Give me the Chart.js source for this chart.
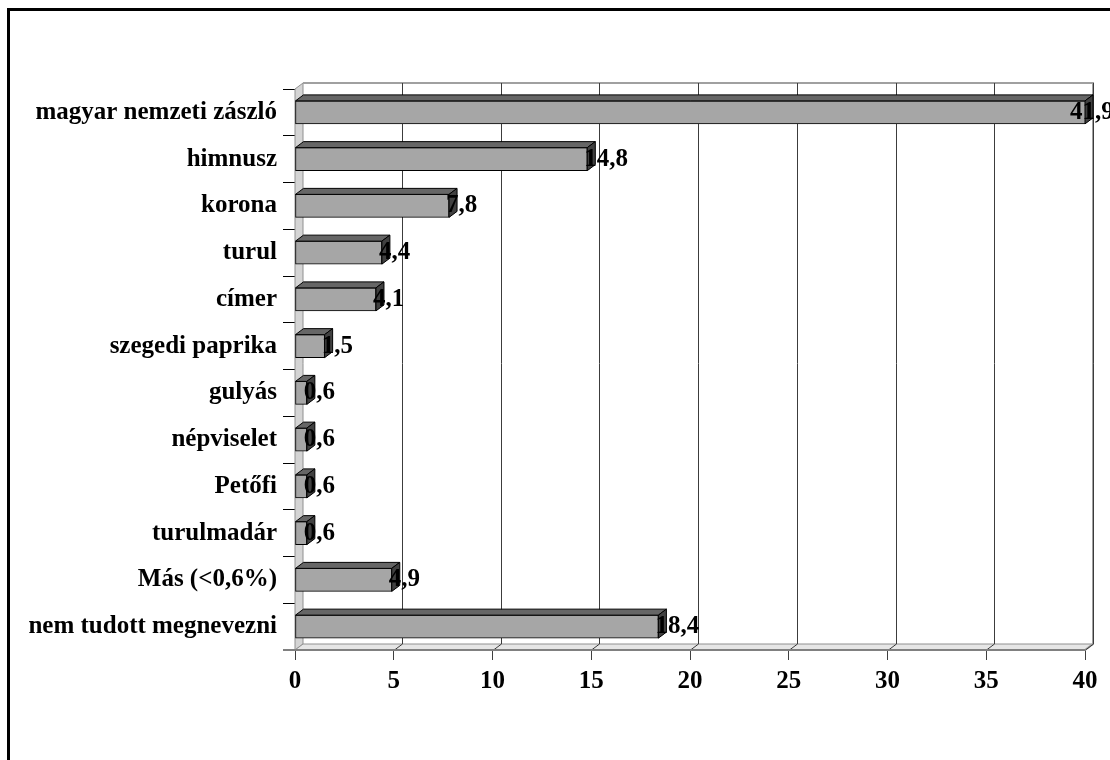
<!DOCTYPE html>
<html>
<head>
<meta charset="utf-8">
<script src="https://cdn.jsdelivr.net/npm/chart.js@4"></script>
<style>
  html, body { margin: 0; padding: 0; background: #fff; }
  #chart { display: block; }
</style>
</head>
<body>
<canvas id="chart" width="1110" height="760"></canvas>
<script>
const categories = [
  'magyar nemzeti zászló', 'himnusz', 'korona', 'turul', 'címer', 'szegedi paprika',
  'gulyás', 'népviselet', 'Petőfi', 'turulmadár', 'Más (<0,6%)', 'nem tudott megnevezni'
];
const values = [41.9, 14.8, 7.8, 4.4, 4.1, 1.5, 0.6, 0.6, 0.6, 0.6, 4.9, 18.4];
const xTicks = [0, 5, 10, 15, 20, 25, 30, 35, 40];

const FONT = { family: '"Liberation Serif", "Times New Roman", serif', size: 25, weight: 'bold' };
const DX = 8, DY = 6; // depth of the fake 3d

const fmt = v => v.toFixed(1).replace('.', ',');

const frame3d = {
  id: 'frame3d',
  beforeDraw(chart) {
    const ctx = chart.ctx;
    ctx.save();
    ctx.strokeStyle = '#000';
    ctx.lineWidth = 3;
    ctx.strokeRect(8.5, 9.5, 1200, 800);
    ctx.restore();
  },
  beforeDatasetsDraw(chart) {
    const { ctx, chartArea: a, scales } = chart;
    ctx.save();
    // left wall
    ctx.fillStyle = '#d4d4d4';
    ctx.strokeStyle = '#909090';
    ctx.lineWidth = 1;
    ctx.beginPath();
    ctx.moveTo(a.left, a.top);
    ctx.lineTo(a.left + DX, a.top - DY);
    ctx.lineTo(a.left + DX, a.bottom - DY);
    ctx.lineTo(a.left, a.bottom);
    ctx.closePath();
    ctx.fill();
    ctx.stroke();
    // floor
    ctx.fillStyle = '#e6e6e6';
    ctx.beginPath();
    ctx.moveTo(a.left, a.bottom);
    ctx.lineTo(a.left + DX, a.bottom - DY);
    ctx.lineTo(a.right + DX, a.bottom - DY);
    ctx.lineTo(a.right, a.bottom);
    ctx.closePath();
    ctx.fill();
    ctx.stroke();
    // back wall edges
    ctx.strokeStyle = '#a0a0a0';
    ctx.lineWidth = 2;
    ctx.beginPath();
    ctx.moveTo(a.left + DX, a.top - DY);
    ctx.lineTo(a.right + DX, a.top - DY);
    ctx.lineTo(a.right + DX, a.bottom - DY);
    ctx.lineTo(a.right, a.bottom);
    ctx.stroke();
    // gridlines on the back wall + floor
    ctx.strokeStyle = '#3c3c3c';
    ctx.lineWidth = 1;
    xTicks.forEach(v => {
      if (v === 0) return;
      const x = Math.round(scales.x.getPixelForValue(v)) + 0.5;
      ctx.beginPath();
      ctx.moveTo(x + DX, a.top - DY);
      ctx.lineTo(x + DX, a.bottom - DY);
      ctx.lineTo(x, a.bottom);
      ctx.stroke();
    });
    // front floor edge
    ctx.strokeStyle = '#808080';
    ctx.lineWidth = 2;
    ctx.beginPath();
    ctx.moveTo(a.left - 12, a.bottom);
    ctx.lineTo(a.right, a.bottom);
    ctx.stroke();
    ctx.restore();
  },
  afterDatasetsDraw(chart) {
    const { ctx, chartArea: a } = chart;
    const meta = chart.getDatasetMeta(0);
    ctx.save();
    ctx.strokeStyle = '#000';
    ctx.lineWidth = 1;
    meta.data.forEach((el, i) => {
      const end = Math.min(el.x, a.right);
      const top = el.y - el.height / 2;
      const bot = el.y + el.height / 2;
      // top face
      ctx.fillStyle = '#666666';
      ctx.beginPath();
      ctx.moveTo(el.base, top);
      ctx.lineTo(el.base + DX, top - DY);
      ctx.lineTo(end + DX, top - DY);
      ctx.lineTo(end, top);
      ctx.closePath();
      ctx.fill();
      ctx.stroke();
      // side face
      ctx.fillStyle = '#404040';
      ctx.beginPath();
      ctx.moveTo(end, top);
      ctx.lineTo(end + DX, top - DY);
      ctx.lineTo(end + DX, bot - DY);
      ctx.lineTo(end, bot);
      ctx.closePath();
      ctx.fill();
      ctx.stroke();
    });
    // value labels
    ctx.fillStyle = '#000';
    ctx.font = `${FONT.weight} ${FONT.size}px ${FONT.family}`;
    ctx.textAlign = 'left';
    ctx.textBaseline = 'middle';
    meta.data.forEach((el, i) => {
      let tx = Math.min(el.x, a.right) - 3;
      if (el.x > a.right) tx = a.right - 15;
      ctx.fillText(fmt(values[i]), tx, el.y);
    });
    ctx.restore();
  }
};

new Chart(document.getElementById('chart'), {
  type: 'bar',
  data: {
    labels: categories,
    datasets: [{
      data: values,
      backgroundColor: '#a6a6a6',
      borderColor: '#000',
      borderWidth: 1,
      borderSkipped: false,
      barThickness: 23
    }]
  },
  options: {
    indexAxis: 'y',
    responsive: false,
    animation: false,
    layout: { padding: { left: 0, right: 25, top: 89, bottom: 0 } },
    plugins: {
      legend: { display: false },
      tooltip: { enabled: false }
    },
    scales: {
      x: {
        min: 0,
        max: 40,
        afterBuildTicks: s => { s.ticks = xTicks.map(v => ({ value: v })); },
        afterFit: s => { s.height = 110; },
        grid: { drawOnChartArea: false, drawTicks: true, tickLength: 10, color: '#404040' },
        border: { display: true, color: '#808080', width: 2 },
        ticks: { color: '#000', font: FONT, padding: 7, maxRotation: 0 }
      },
      y: {
        afterFit: s => { s.width = 295; },
        grid: { drawOnChartArea: false, drawTicks: true, tickLength: 12, color: '#000', offset: true },
        border: { display: true, color: '#000', width: 1 },
        ticks: { color: '#000', font: FONT, padding: 6 }
      }
    }
  },
  plugins: [frame3d]
});
</script>
</body>
</html>
